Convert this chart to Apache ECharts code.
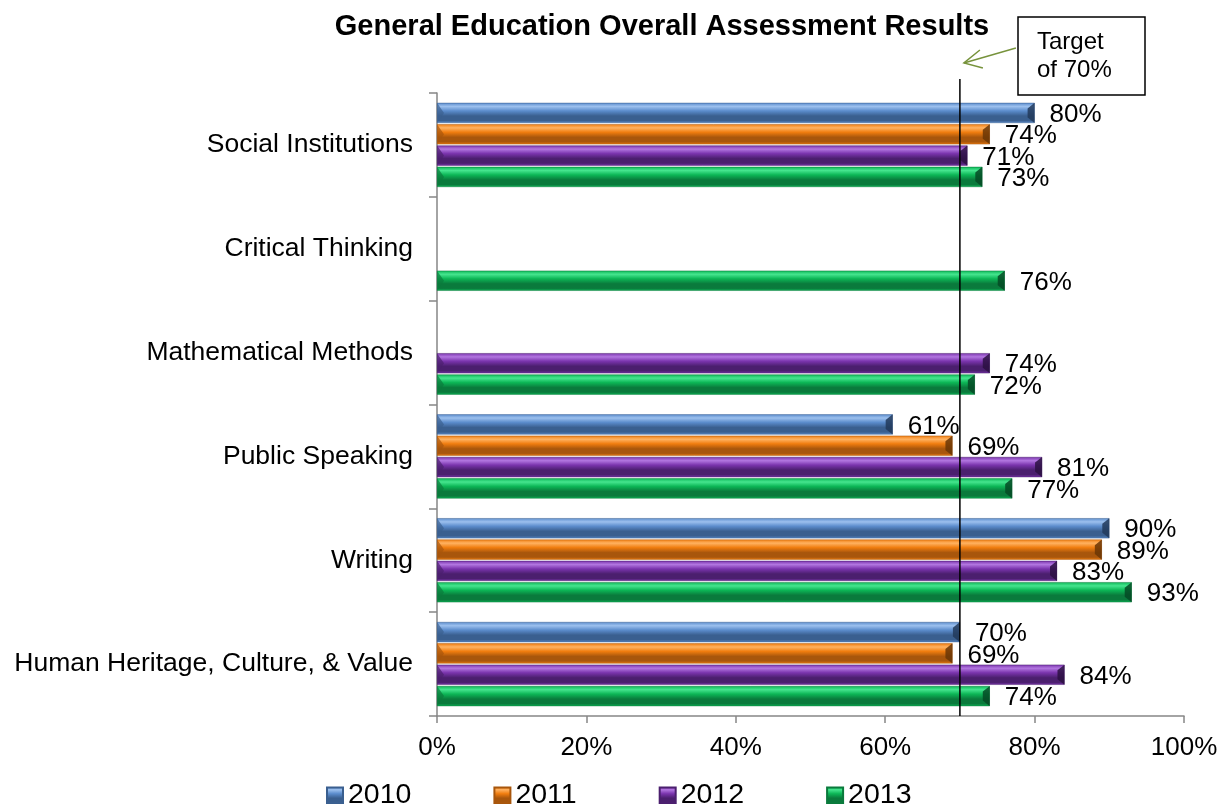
<!DOCTYPE html>
<html>
<head>
<meta charset="utf-8">
<script src="https://cdn.jsdelivr.net/npm/echarts@6/dist/echarts.min.js"></script>
<style>
  html, body { margin: 0; padding: 0; background: #fff; }
  #chart { width: 1227px; height: 804px; }
</style>
</head>
<body>
<div id="chart"></div>
<script>
// Outcome areas, listed top to bottom
const categories = [
  'Social Institutions',
  'Critical Thinking',
  'Mathematical Methods',
  'Public Speaking',
  'Writing',
  'Human Heritage, Culture, & Value'
];
const years = ['2010', '2011', '2012', '2013'];

// Percent of students meeting the standard (null = not assessed that year)
const results2010 = [80, null, null, 61, 90, 70];
const results2011 = [74, null, null, 69, 89, 69];
const results2012 = [71, null, 74, 81, 83, 84];
const results2013 = [73, 76, 72, 77, 93, 74];

const xTicks = [0, 20, 40, 60, 80, 100];
const TARGET = 70;

const FONT = 'Liberation Sans, Arial, sans-serif';

// light / base / dark shades for each year's bevelled bar
const palette = [
  { light: '#9cc0ee', base: '#5b8ccc', dark: '#3a5f8f', deep: '#22395a' },
  { light: '#ffb261', base: '#f07d0f', dark: '#a8560c', deep: '#6a3606' },
  { light: '#b276e0', base: '#7a34ad', dark: '#4b1f6e', deep: '#2c1042' },
  { light: '#45e58e', base: '#0cb656', dark: '#0a7a3c', deep: '#054a24' }
];

const CATEGORY_GAP = 0.19;
const BAR_GAP = 0.06;

function bevel(c) {
  return {
    type: 'linear', x: 0, y: 0, x2: 0, y2: 1,
    colorStops: [
      { offset: 0, color: c.base },
      { offset: 0.18, color: c.light },
      { offset: 0.4, color: c.base },
      { offset: 0.65, color: c.dark },
      { offset: 0.88, color: c.dark },
      { offset: 1, color: c.base }
    ]
  };
}

const seriesData = [results2010, results2011, results2012, results2013];

// bevelled end caps, laid over each bar using the same band layout as the bars
function capRenderer(k) {
  const c = palette[k];
  return function (params, api) {
    const v = api.value(0);
    const ci = api.value(1);
    const end = api.coord([v, ci]);
    const start = api.coord([0, ci]);
    const band = api.size([0, 1])[1];
    const total = band * (1 - CATEGORY_GAP);
    const barW = total / (years.length + (years.length - 1) * BAR_GAP);
    const top = end[1] - total / 2 + k * barW * (1 + BAR_GAP);
    const bot = top + barW;
    const mid = (top + bot) / 2;
    const w = Math.min(7, barW * 0.35);
    return {
      type: 'group',
      children: [
        {
          type: 'polygon',
          shape: { points: [[end[0], top], [end[0] - w, top + w * 0.8], [end[0] - w, bot - w * 0.8], [end[0], bot]] },
          style: { fill: c.deep, opacity: 0.85 }
        },
        {
          type: 'polygon',
          shape: { points: [[start[0], top], [start[0] + w, mid], [start[0], bot]] },
          style: { fill: c.dark, opacity: 0.7 }
        }
      ]
    };
  };
}

const chart = echarts.init(document.getElementById('chart'), null, { renderer: 'canvas' });

const barSeries = years.map((y, i) => ({
  name: y,
  type: 'bar',
  data: seriesData[i],
  color: palette[i].base,
  barCategoryGap: (CATEGORY_GAP * 100) + '%',
  barGap: (BAR_GAP * 100) + '%',
  itemStyle: { color: bevel(palette[i]), borderColor: palette[i].dark, borderWidth: 0.5 },
  label: {
    show: true,
    position: 'right',
    distance: 15,
    offset: [0, 2],
    formatter: p => (p.value == null ? '' : p.value + '%'),
    fontFamily: FONT,
    fontSize: 26,
    color: '#000'
  }
}));

const capSeries = years.map((y, k) => ({
  name: y + ' caps',
  type: 'custom',
  silent: true,
  z: 3,
  renderItem: capRenderer(k),
  encode: { x: 0, y: 1 },
  data: seriesData[k].map((v, i) => (v == null ? null : [v, i])).filter(d => d)
}));

const option = {
  animation: false,
  backgroundColor: '#ffffff',
  title: {
    text: 'General Education Overall Assessment Results',
    left: 657,
    textAlign: 'center',
    top: 7,
    textStyle: { fontFamily: FONT, fontSize: 29, fontWeight: 'bold', color: '#000' }
  },
  legend: {
    data: years,
    top: 776,
    left: 321,
    itemWidth: 16,
    itemHeight: 16,
    itemGap: 82,
    icon: 'rect',
    textStyle: { fontFamily: FONT, fontSize: 28.5, color: '#000', padding: [0, 0, 0, 0] }
  },
  grid: { left: 437, right: 43, top: 93, bottom: 88, containLabel: false },
  xAxis: {
    type: 'value',
    min: 0,
    max: 100,
    interval: 20,
    axisLine: { show: true, lineStyle: { color: '#868686', width: 1.5 } },
    axisTick: { show: true, length: 7, lineStyle: { color: '#868686', width: 1.5 } },
    splitLine: { show: false },
    axisLabel: {
      formatter: v => xTicks.includes(v) ? v + '%' : '',
      fontFamily: FONT, fontSize: 26, color: '#000', margin: 19
    }
  },
  yAxis: {
    type: 'category',
    data: categories,
    inverse: true,
    axisLine: { show: true, lineStyle: { color: '#868686', width: 1.5 } },
    axisTick: { show: true, length: 8, lineStyle: { color: '#868686', width: 1.5 } },
    axisLabel: { fontFamily: FONT, fontSize: 26.5, color: '#000', margin: 24 }
  },
  series: barSeries.concat(capSeries)
};

chart.setOption(option);

// Target line and its callout, placed through the x scale
const tx = chart.convertToPixel({ xAxisIndex: 0 }, TARGET);
const yBottom = 804 - 88;
chart.setOption({
  graphic: [
    {
      type: 'line', z: 100,
      shape: { x1: tx, y1: 79, x2: tx, y2: yBottom },
      style: { stroke: '#000', lineWidth: 1.5 }
    },
    {
      type: 'line', z: 100,
      shape: { x1: tx + 56, y1: 48, x2: tx + 4, y2: 63 },
      style: { stroke: '#77933c', lineWidth: 1.5 }
    },
    {
      type: 'polyline', z: 100,
      shape: { points: [[tx + 20, 50], [tx + 4, 63], [tx + 23, 68]] },
      style: { stroke: '#77933c', lineWidth: 1.5, fill: null }
    },
    {
      type: 'rect', z: 100,
      shape: { x: 1018, y: 17, width: 127, height: 78 },
      style: { fill: '#fff', stroke: '#000', lineWidth: 1.5 }
    },
    {
      type: 'text', z: 101,
      left: 1037, top: 28,
      style: { text: 'Target\nof 70%', font: '24px ' + FONT, fill: '#000', lineHeight: 28 }
    }
  ]
});
</script>
</body>
</html>
